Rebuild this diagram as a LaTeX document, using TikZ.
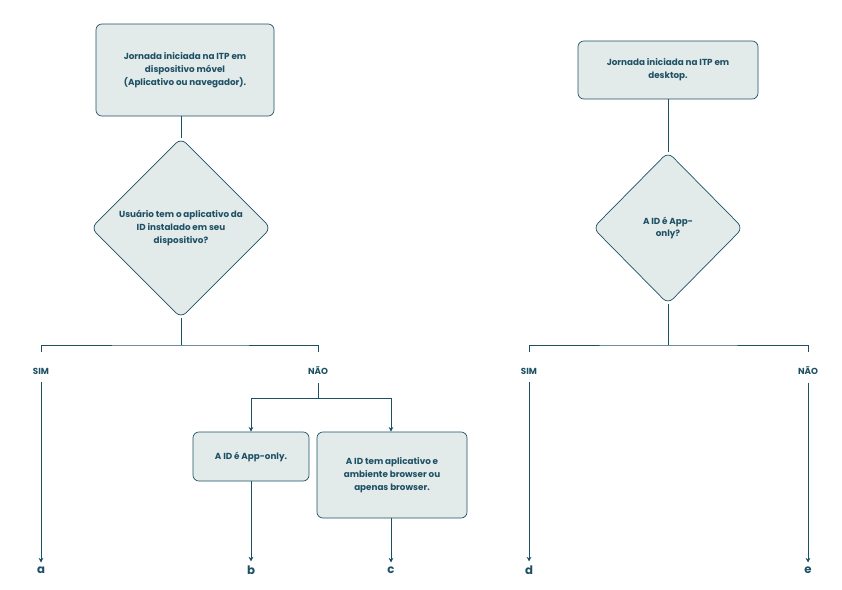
\documentclass[tikz,border=0pt]{standalone}
\usepackage{fontspec}
\setmainfont{Poppins}
\usetikzlibrary{arrows.meta,shapes.geometric}
\definecolor{ink}{HTML}{1E5064}
\definecolor{pale}{HTML}{E2EAEA}

\tikzset{
  box/.style={draw=ink,fill=pale,rounded corners=5pt,line width=0.6pt,
    text=ink,font=\fontsize{7.5}{11}\selectfont\bfseries,align=center,inner sep=0pt},
  losango/.style={diamond,draw=ink,fill=pale,rounded corners=6pt,line width=0.6pt,
    text=ink,font=\fontsize{7.5}{11}\selectfont\bfseries,align=center,inner sep=0pt},
  rot/.style={text=ink,font=\fontsize{7.5}{9}\selectfont\bfseries},
  letra/.style={text=ink,font=\fontsize{10}{12}\selectfont\bfseries},
  liga/.style={draw=ink,line width=0.6pt},
  seta/.style={liga,-{Stealth[length=4pt,width=4pt]}}
}

\begin{document}
\begin{tikzpicture}[x=0.03cm,y=-0.03cm]
\useasboundingbox (0,0) rectangle (842,589);

% movel
\node[box,minimum width=178*0.03cm,minimum height=92*0.03cm](j1) at (185,70)
  {Jornada iniciada na ITP em\\dispositivo móvel\\(Aplicativo ou navegador).};
\node[losango,minimum width=180*0.03cm,minimum height=180*0.03cm](q1) at (181,228)
  {Usuário tem o aplicativo da\\ID instalado em seu\\dispositivo?};
\coordinate (h1) at (181,345);
\coordinate (hs) at (41,352);
\coordinate (hn) at (318,352);
\node[rot](sim1) at (41,371) {SIM};
\node[rot](nao1) at (318,371) {NÃO};
\coordinate (h2) at (318,398);
\coordinate (h2r) at (391,398);
\node[box,minimum width=116*0.03cm,minimum height=49*0.03cm](app) at (251,456.5) {A ID é App-only.};
\node[box,minimum width=150*0.03cm,minimum height=86*0.03cm](brw) at (392,475)
  {A ID tem aplicativo e\\ambiente browser ou\\apenas browser.};
\node[letra](a) at (41,570) {a};
\node[letra](b) at (251,570) {b};
\node[letra](c) at (391,570) {c};

\draw[liga] (j1.south -| q1) -- (q1.north);
\draw[liga] (q1.south) -- (h1);
\draw[liga] (hs) |- (h1) -| (hn);
\draw[seta,shorten <=3pt] (sim1.south) -- (a.north);
\draw[liga,shorten <=3pt] (nao1.south) -- (h2);
\draw[seta] (h2) -| (app.north);
\draw[seta] (h2) -| (brw.north -| h2r);
\draw[seta] (app.south) -- (b.north);
\draw[seta] (brw.south -| c) -- (c.north);

% desktop
\node[box,minimum width=180*0.03cm,minimum height=58*0.03cm](j2) at (668,70)
  {Jornada iniciada na ITP em\\desktop.};
\node[losango,minimum width=150*0.03cm,minimum height=152*0.03cm](q2) at (668,228)
  {A ID é App-\\only?};
\coordinate (k1) at (668,345);
\coordinate (ks) at (529,352);
\coordinate (kn) at (808,352);
\node[rot](sim2) at (529,371) {SIM};
\node[rot](nao2) at (808,371) {NÃO};
\node[letra](d) at (529,570) {d};
\node[letra](e) at (808,570) {e};

\draw[liga] (j2.south) -- (q2.north);
\draw[liga] (q2.south) -- (k1);
\draw[liga] (ks) |- (k1) -| (kn);
\draw[seta,shorten <=3pt] (sim2.south) -- (d.north);
\draw[seta,shorten <=3pt] (nao2.south) -- (e.north);
\end{tikzpicture}
\end{document}
